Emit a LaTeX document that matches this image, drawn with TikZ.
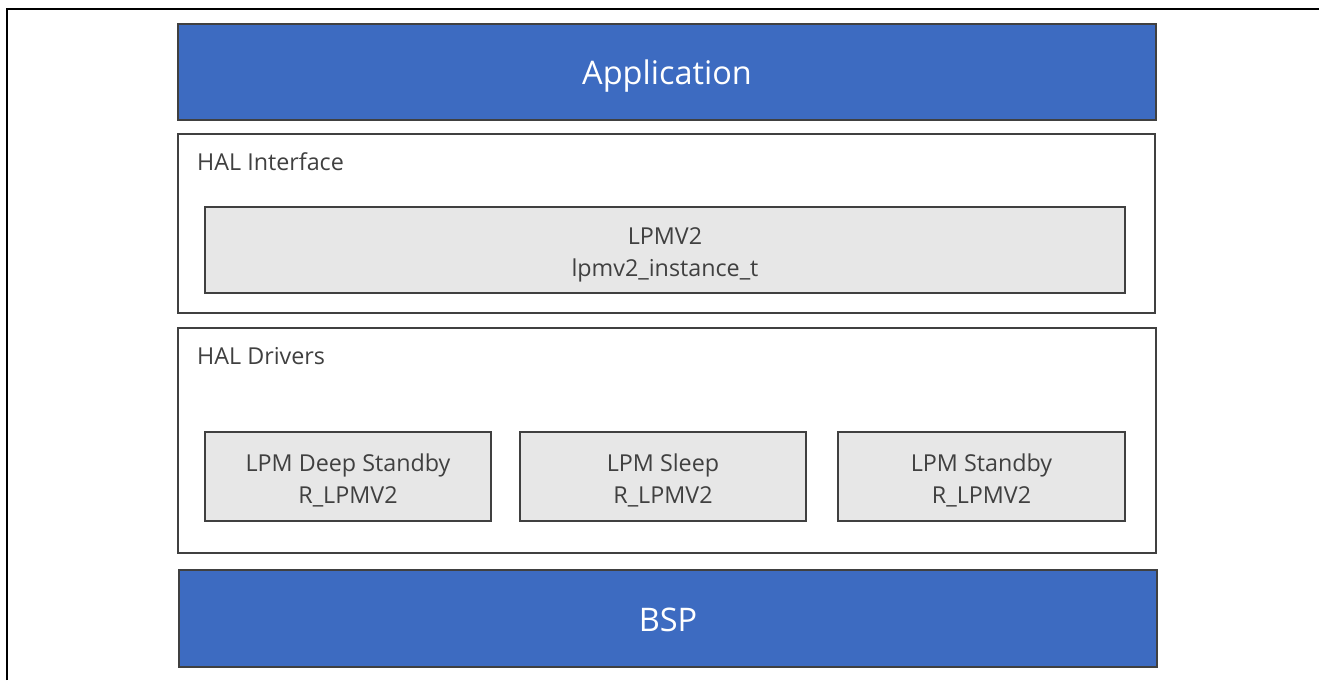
\documentclass[tikz,border=0pt]{standalone}
\usepackage{fontspec}
\setmainfont{Open Sans}
\definecolor{barblue}{HTML}{3D6BC1}
\definecolor{edgegrey}{HTML}{404040}
\definecolor{boxgrey}{HTML}{E7E7E7}
\definecolor{textgrey}{HTML}{404040}
% two centred lines with a fixed height and depth
\newcommand{\modlines}[2]{\rule{0pt}{27pt}#1\\#2\rule[-6pt]{0pt}{6pt}}
\tikzset{
	bluebar/.style={draw=edgegrey, line width=2pt, fill=barblue, text=white,
		font=\fontsize{32.5}{38}\selectfont, text height=33pt, text depth=7.4pt, inner sep=0pt},
	layerbox/.style={draw=edgegrey, line width=2pt, fill=white, inner sep=0pt},
	modbox/.style={draw=edgegrey, line width=2pt, fill=boxgrey, text=textgrey,
		align=center, font=\fontsize{23.3}{32}\selectfont, inner sep=0pt},
	layername/.style={text=textgrey, font=\fontsize{23.3}{28}\selectfont, inner sep=0pt, anchor=base west}
}
\begin{document}
\begin{tikzpicture}[x=1pt,y=-1pt]
		\useasboundingbox (0,0) rectangle (1319,680);
		\draw [line width=2.5pt] (7,680) -- (7,9) -- (1319,9);
		
		\node[bluebar, minimum width=978pt, minimum height=96pt] (app) at (667,72) {Application};
		
		\node[layerbox, minimum width=977pt, minimum height=179pt] (halif) at (666.5,223.5) {};
		\node[layername] (halifname) at (197,170) {HAL Interface};
		\node[modbox, minimum width=920pt, minimum height=86pt] (lpmv) at (665,250) {\modlines{LPMV2}{lpmv2\_instance\_t}};
		
		\node[layerbox, minimum width=978pt, minimum height=225pt] (haldrv) at (667,440) {};
		\node[layername] (haldrvname) at (197,364) {HAL Drivers};
		\node[modbox, minimum width=286pt, minimum height=89pt] (deep) at (348,476.5) {\modlines{LPM Deep Standby}{R\_LPMV2}};
		\node[modbox, minimum width=286pt, minimum height=89pt] (sleep) at (663,476.5) {\modlines{LPM Sleep}{R\_LPMV2}};
		\node[modbox, minimum width=287pt, minimum height=89pt] (stby) at (981.5,476.5) {\modlines{LPM Standby}{R\_LPMV2}};
		
		\node[bluebar, minimum width=978pt, minimum height=97pt] (bsp) at (668,618.5) {BSP};
		\end{tikzpicture}
\end{document}
